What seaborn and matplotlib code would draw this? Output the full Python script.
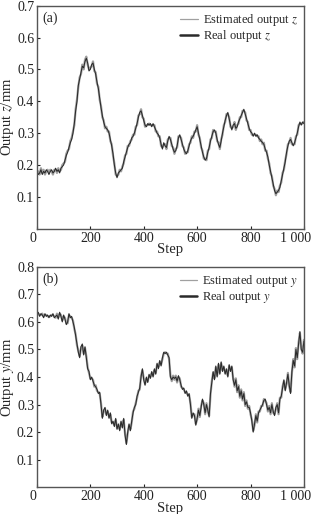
import numpy as np
import pandas as pd
import seaborn as sns
import matplotlib
matplotlib.use("Agg")
import matplotlib.pyplot as plt
from matplotlib.lines import Line2D
import matplotlib.transforms as mtransforms

# ---------------- data (step spacing 5) ----------------
z_real = [
    0.180, 0.170, 0.175, 0.185, 0.170, 0.180, 0.175, 0.185, 0.180, 0.170,
    0.180, 0.185, 0.175, 0.180, 0.190, 0.180, 0.185, 0.175, 0.190, 0.195,
    0.200, 0.215, 0.230, 0.240, 0.255, 0.270, 0.280, 0.300, 0.330, 0.370,
    0.400, 0.450, 0.470, 0.490, 0.510, 0.505, 0.525, 0.535, 0.520, 0.495,
    0.500, 0.515, 0.520, 0.500, 0.485, 0.460, 0.440, 0.410, 0.380, 0.355,
    0.335, 0.320, 0.315, 0.310, 0.300, 0.280, 0.260, 0.235, 0.200, 0.175,
    0.160, 0.175, 0.180, 0.185, 0.190, 0.210, 0.225, 0.240, 0.255, 0.265,
    0.270, 0.285, 0.290, 0.300, 0.315, 0.330, 0.350, 0.365, 0.370, 0.355,
    0.340, 0.325, 0.320, 0.330, 0.325, 0.330, 0.320, 0.330, 0.320, 0.310,
    0.300, 0.295, 0.285, 0.265, 0.250, 0.270, 0.260, 0.255, 0.275, 0.290,
    0.280, 0.265, 0.250, 0.240, 0.245, 0.260, 0.285, 0.295, 0.280, 0.265,
    0.250, 0.240, 0.235, 0.245, 0.260, 0.275, 0.285, 0.290, 0.300, 0.310,
    0.320, 0.300, 0.280, 0.260, 0.240, 0.225, 0.215, 0.220, 0.240, 0.255,
    0.275, 0.290, 0.305, 0.310, 0.300, 0.280, 0.265, 0.255, 0.275, 0.300,
    0.320, 0.340, 0.355, 0.365, 0.345, 0.325, 0.310, 0.325, 0.330, 0.315,
    0.320, 0.335, 0.345, 0.355, 0.365, 0.375, 0.360, 0.345, 0.330, 0.315,
    0.305, 0.300, 0.290, 0.300, 0.290, 0.295, 0.285, 0.280, 0.275, 0.270,
    0.265, 0.250, 0.240, 0.225, 0.200, 0.180, 0.160, 0.140, 0.120, 0.110,
    0.115, 0.120, 0.130, 0.150, 0.170, 0.190, 0.210, 0.240, 0.260, 0.275,
    0.280, 0.270, 0.260, 0.270, 0.285, 0.300, 0.320, 0.335, 0.325, 0.335,
    0.330,
]
z_est = [
    0.175, 0.180, 0.170, 0.190, 0.175, 0.185, 0.170, 0.180, 0.185, 0.175,
    0.185, 0.180, 0.170, 0.185, 0.185, 0.175, 0.190, 0.180, 0.185, 0.200,
    0.205, 0.210, 0.235, 0.245, 0.250, 0.275, 0.285, 0.305, 0.325, 0.375,
    0.405, 0.445, 0.475, 0.485, 0.515, 0.500, 0.530, 0.540, 0.515, 0.500,
    0.505, 0.510, 0.525, 0.495, 0.490, 0.455, 0.445, 0.405, 0.385, 0.350,
    0.340, 0.315, 0.320, 0.305, 0.305, 0.275, 0.265, 0.230, 0.205, 0.170,
    0.165, 0.170, 0.185, 0.180, 0.195, 0.205, 0.230, 0.235, 0.260, 0.260,
    0.275, 0.280, 0.295, 0.295, 0.320, 0.325, 0.355, 0.360, 0.375, 0.350,
    0.345, 0.320, 0.325, 0.325, 0.330, 0.325, 0.325, 0.325, 0.325, 0.305,
    0.305, 0.290, 0.290, 0.260, 0.255, 0.265, 0.265, 0.250, 0.280, 0.285,
    0.285, 0.260, 0.255, 0.235, 0.250, 0.255, 0.290, 0.290, 0.285, 0.260,
    0.255, 0.235, 0.240, 0.240, 0.265, 0.270, 0.290, 0.285, 0.305, 0.305,
    0.325, 0.295, 0.285, 0.255, 0.245, 0.220, 0.220, 0.215, 0.245, 0.250,
    0.280, 0.285, 0.310, 0.305, 0.305, 0.275, 0.270, 0.250, 0.280, 0.295,
    0.325, 0.335, 0.360, 0.360, 0.350, 0.320, 0.315, 0.320, 0.335, 0.310,
    0.325, 0.330, 0.350, 0.350, 0.370, 0.370, 0.365, 0.340, 0.335, 0.310,
    0.310, 0.295, 0.295, 0.295, 0.295, 0.290, 0.290, 0.275, 0.280, 0.265,
    0.270, 0.245, 0.245, 0.220, 0.205, 0.175, 0.165, 0.135, 0.125, 0.105,
    0.120, 0.115, 0.135, 0.145, 0.175, 0.185, 0.215, 0.235, 0.265, 0.270,
    0.285, 0.265, 0.265, 0.265, 0.290, 0.295, 0.325, 0.330, 0.330, 0.330,
    0.335,
]
y_real = [
    0.625, 0.635, 0.620, 0.630, 0.625, 0.615, 0.630, 0.620, 0.625, 0.615,
    0.625, 0.620, 0.630, 0.615, 0.620, 0.625, 0.610, 0.635, 0.620, 0.600,
    0.625, 0.610, 0.590, 0.600, 0.630, 0.615, 0.620, 0.600, 0.580, 0.550,
    0.520, 0.490, 0.470, 0.510, 0.520, 0.480, 0.510, 0.470, 0.430, 0.420,
    0.390, 0.400, 0.385, 0.370, 0.365, 0.355, 0.340, 0.345, 0.300, 0.250,
    0.280, 0.290, 0.260, 0.280, 0.250, 0.270, 0.230, 0.240, 0.220, 0.250,
    0.210, 0.230, 0.205, 0.240, 0.215, 0.250, 0.190, 0.155, 0.200, 0.230,
    0.205, 0.240, 0.270, 0.290, 0.300, 0.330, 0.345, 0.360, 0.400, 0.430,
    0.390, 0.370, 0.400, 0.380, 0.410, 0.395, 0.420, 0.400, 0.430, 0.410,
    0.450, 0.430, 0.460, 0.440, 0.470, 0.490, 0.485, 0.490, 0.480, 0.470,
    0.400, 0.390, 0.400, 0.395, 0.400, 0.385, 0.405, 0.390, 0.370, 0.355,
    0.360, 0.340, 0.350, 0.330, 0.340, 0.300, 0.250, 0.270, 0.260, 0.225,
    0.250, 0.280, 0.260, 0.290, 0.320, 0.300, 0.270, 0.300, 0.280, 0.255,
    0.340, 0.380, 0.420, 0.390, 0.440, 0.400, 0.450, 0.410, 0.455, 0.420,
    0.440, 0.410, 0.430, 0.400, 0.445, 0.420, 0.440, 0.390, 0.370, 0.390,
    0.350, 0.365, 0.330, 0.350, 0.320, 0.340, 0.300, 0.310, 0.290, 0.290,
    0.270, 0.240, 0.200, 0.230, 0.260, 0.240, 0.270, 0.280, 0.290, 0.300,
    0.315, 0.320, 0.300, 0.280, 0.290, 0.270, 0.300, 0.275, 0.260, 0.290,
    0.300, 0.270, 0.320, 0.330, 0.360, 0.390, 0.350, 0.380, 0.410, 0.370,
    0.340, 0.420, 0.460, 0.440, 0.500, 0.470, 0.520, 0.565, 0.500, 0.490,
    0.530,
]
y_est = [
    0.630, 0.630, 0.625, 0.625, 0.630, 0.620, 0.625, 0.625, 0.620, 0.620,
    0.620, 0.625, 0.625, 0.620, 0.615, 0.630, 0.615, 0.630, 0.625, 0.605,
    0.620, 0.615, 0.595, 0.595, 0.625, 0.620, 0.615, 0.605, 0.575, 0.555,
    0.515, 0.495, 0.475, 0.505, 0.515, 0.485, 0.505, 0.475, 0.435, 0.415,
    0.395, 0.395, 0.390, 0.365, 0.370, 0.350, 0.345, 0.340, 0.305, 0.255,
    0.275, 0.285, 0.265, 0.275, 0.255, 0.265, 0.235, 0.235, 0.225, 0.245,
    0.215, 0.225, 0.210, 0.235, 0.220, 0.245, 0.195, 0.160, 0.195, 0.225,
    0.210, 0.235, 0.275, 0.285, 0.305, 0.325, 0.350, 0.355, 0.405, 0.425,
    0.395, 0.375, 0.395, 0.385, 0.405, 0.400, 0.415, 0.405, 0.425, 0.415,
    0.445, 0.435, 0.455, 0.445, 0.465, 0.485, 0.490, 0.485, 0.485, 0.465,
    0.405, 0.385, 0.405, 0.390, 0.405, 0.380, 0.400, 0.395, 0.365, 0.360,
    0.355, 0.345, 0.345, 0.335, 0.335, 0.305, 0.255, 0.265, 0.265, 0.230,
    0.245, 0.285, 0.255, 0.295, 0.315, 0.305, 0.265, 0.305, 0.275, 0.260,
    0.335, 0.385, 0.415, 0.395, 0.435, 0.405, 0.445, 0.415, 0.450, 0.425,
    0.435, 0.415, 0.425, 0.405, 0.440, 0.425, 0.435, 0.395, 0.365, 0.395,
    0.345, 0.370, 0.325, 0.355, 0.315, 0.345, 0.295, 0.315, 0.285, 0.295,
    0.265, 0.245, 0.205, 0.225, 0.265, 0.235, 0.275, 0.275, 0.295, 0.295,
    0.320, 0.315, 0.305, 0.275, 0.295, 0.265, 0.305, 0.270, 0.265, 0.285,
    0.305, 0.265, 0.325, 0.325, 0.365, 0.385, 0.355, 0.375, 0.415, 0.365,
    0.345, 0.415, 0.465, 0.435, 0.505, 0.465, 0.525, 0.560, 0.505, 0.485,
    0.535,
]
step_size = 5
x_ticks = [0, 200, 400, 600, 800, 1000]
x_tick_labels = ["0", "200", "400", "600", "800", "1 000"]
z_ticks = [0.1, 0.2, 0.3, 0.4, 0.5, 0.6, 0.7]
y_ticks = [0.1, 0.2, 0.3, 0.4, 0.5, 0.6, 0.7, 0.8]

# ---------------- styling ----------------
sns.set_style("ticks")
plt.rcParams["font.family"] = ["Liberation Serif", "DejaVu Serif"]
plt.rcParams["mathtext.fontset"] = "stix"

EST_COLOR = "#a0a0a0"
REAL_COLOR = "#2a2a2a"
SPINE_COLOR = "#555555"
TICK_FS = 10
LABEL_FS = 10.5

fig = plt.figure(figsize=(3.13, 5.14), dpi=100)
ax_top = fig.add_axes([0.118, 0.555, 0.853, 0.434])
ax_bot = fig.add_axes([0.118, 0.052, 0.853, 0.429])


def make_df(real, est):
    n = len(real)
    steps = np.arange(n) * step_size
    return pd.DataFrame({"step": steps, "real": real, "est": est})


def draw(ax, real, est, sym, ylim, yticks, panel):
    df = make_df(real, est)
    sns.lineplot(data=df, x="step", y="est", ax=ax, color=EST_COLOR,
                 linewidth=1.6, legend=False)
    sns.lineplot(data=df, x="step", y="real", ax=ax, color=REAL_COLOR,
                 linewidth=0.75, legend=False)
    ax.set_xlim(0, 1000)
    ax.set_ylim(*ylim)
    ax.set_xticks(x_ticks)
    ax.set_xticklabels(x_tick_labels)
    ax.set_yticks(yticks)
    ax.set_yticklabels([f"{t:.1f}" for t in yticks])
    ax.tick_params(direction="in", length=2.5, width=0.8, labelsize=TICK_FS,
                   pad=2, colors="#222222")
    labels = ax.get_xticklabels()
    labels[-1].set_transform(labels[-1].get_transform() +
                             mtransforms.ScaledTranslation(-8 / 100, 0, fig.dpi_scale_trans))
    labels[0].set_transform(labels[0].get_transform() +
                            mtransforms.ScaledTranslation(-4 / 100, 0, fig.dpi_scale_trans))
    for s in ax.spines.values():
        s.set_visible(True)
        s.set_color(SPINE_COLOR)
        s.set_linewidth(1.0)
    ax.set_xlabel("Step", fontsize=LABEL_FS, labelpad=-1)
    ax.set_ylabel(f"Output ${sym}$/mm", fontsize=LABEL_FS, labelpad=1)
    ax.text(0.02, 0.975, panel, transform=ax.transAxes, fontsize=10,
            va="top", ha="left")
    handles = [
        Line2D([], [], color=EST_COLOR, linewidth=0.9),
        Line2D([], [], color=REAL_COLOR, linewidth=1.8),
    ]
    labels_txt = [f"Estimated output ${sym}$", f"Real output ${sym}$"]
    ax.legend(handles, labels_txt, loc="upper right", frameon=False,
              fontsize=9, handlelength=1.4, handletextpad=0.4,
              labelspacing=0.02, borderaxespad=0.1)


draw(ax_top, z_real, z_est, "z", (0, 0.7), z_ticks, "(a)")
draw(ax_bot, y_real, y_est, "y", (0, 0.8), y_ticks, "(b)")

fig.savefig("out.png", dpi=100)
